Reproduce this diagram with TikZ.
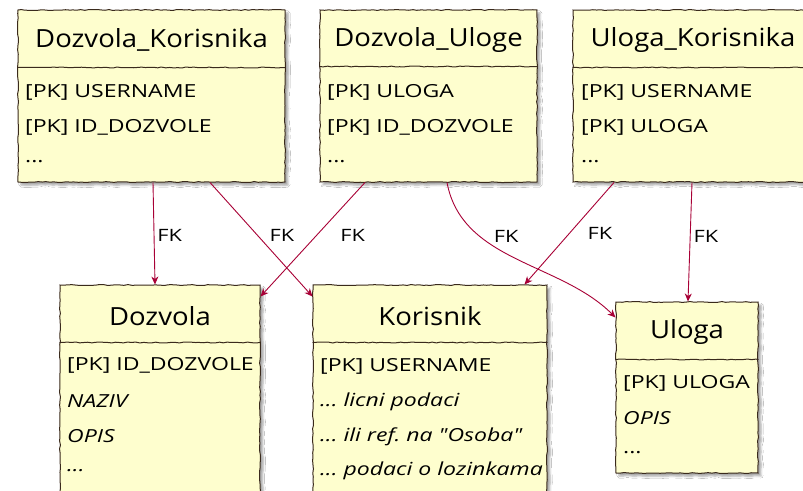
\documentclass[tikz,border=0pt]{standalone}
\usepackage{fontspec}
\setmainfont{Open Sans}
\newfontfamily\rowfont{Open Sans}[FakeStretch=1.28]
\newfontfamily\ttlfont{Open Sans}[FakeStretch=1.1]
\usetikzlibrary{decorations.pathmorphing,shadows.blur,arrows.meta}
\definecolor{note}{HTML}{FEFECE}
\definecolor{edge}{HTML}{3A2A1C}
\definecolor{fkred}{HTML}{A80036}
\frenchspacing
\tikzset{
  sketchy/.style={decorate, decoration={random steps, segment length=4pt, amplitude=0.5pt}},
  tbl/.style={draw=edge, fill=note, line width=1pt, sketchy, inner sep=0pt,
    blur shadow={shadow xshift=3pt, shadow yshift=-3pt, shadow blur radius=2pt, shadow opacity=35}},
  sep/.style={draw=edge, line width=1pt, sketchy},
  ttl/.style={font=\ttlfont\fontsize{25}{29}\selectfont, inner sep=0pt},
  row/.style={font=\rowfont\fontsize{18}{21}\selectfont\frenchspacing, anchor=west, inner sep=0pt},
  irow/.style={row, font=\rowfont\fontsize{18}{21}\selectfont\itshape\frenchspacing},
  fk/.style={draw=fkred, line width=0.9pt, -{Stealth[length=8pt, width=7pt, inset=2.5pt]}},
  lbl/.style={font=\rowfont\fontsize{17}{19}\selectfont, inner sep=0pt, anchor=west, text=black}
}
\begin{document}
\begin{tikzpicture}[x=1pt, y=-1pt]
\useasboundingbox (0,0) rectangle (803,490);
\fill[white] (0,0) rectangle (803,490);
\clip (0,0) rectangle (803,490);

% ---- upper row of link tables ----
\node[tbl, minimum width=267pt, minimum height=172pt] (dk) at (151.5,96) {};
\draw[sep] ([yshift=-58pt]dk.north west) -- ([yshift=-58pt]dk.north east);
\node[ttl] (dkt) at (151.5,40) {Dozvola\_Korisnika};
\node[row] (dk1) at (25,92)  {[PK] USERNAME};
\node[row] (dk2) at (25,127) {[PK] ID\_DOZVOLE};
\node[row] (dk3) at (25,162) {...};

\node[tbl, minimum width=217pt, minimum height=172pt] (du) at (428.5,96) {};
\draw[sep] ([yshift=-57pt]du.north west) -- ([yshift=-57pt]du.north east);
\node[ttl] (dut) at (428.5,40) {Dozvola\_Uloge};
\node[row] (du1) at (327,92)  {[PK] ULOGA};
\node[row] (du2) at (327,127) {[PK] ID\_DOZVOLE};
\node[row] (du3) at (327,162) {...};

\node[tbl, minimum width=240pt, minimum height=172pt] (uk) at (693,96) {};
\draw[sep] ([yshift=-58pt]uk.north west) -- ([yshift=-58pt]uk.north east);
\node[ttl] (ukt) at (693,40) {Uloga\_Korisnika};
\node[row] (uk1) at (581,92)  {[PK] USERNAME};
\node[row] (uk2) at (581,127) {[PK] ULOGA};
\node[row] (uk3) at (581,162) {...};

% ---- lower row of entity tables ----
\node[tbl, minimum width=200pt, minimum height=230pt] (dz) at (160,400) {};
\draw[sep] ([yshift=-58pt]dz.north west) -- ([yshift=-58pt]dz.north east);
\node[ttl] (dzt) at (160,316) {Dozvola};
\node[row]  (dz1) at (67,365) {[PK] ID\_DOZVOLE};
\node[irow] (dz2) at (67,401) {NAZIV};
\node[irow] (dz3) at (67,436) {OPIS};
\node[irow] (dz4) at (67,471) {...};

\node[tbl, minimum width=234pt, minimum height=230pt] (ko) at (430,400) {};
\draw[sep] ([yshift=-58pt]ko.north west) -- ([yshift=-58pt]ko.north east);
\node[ttl] (kot) at (430,316) {Korisnik};
\node[row]  (ko1) at (320,366) {[PK] USERNAME};
\node[irow] (ko2) at (320,402) {... licni podaci};
\node[irow] (ko3) at (320,437) {... ili ref. na \symbol{"22}Osoba\symbol{"22}};
\node[irow] (ko4) at (320,471) {... podaci o lozinkama};

\node[tbl, minimum width=142pt, minimum height=171pt] (ul) at (687,387.5) {};
\draw[sep] ([yshift=-58pt]ul.north west) -- ([yshift=-58pt]ul.north east);
\node[ttl] (ult) at (687,332) {Uloga};
\node[row]  (ul1) at (623,383) {[PK] ULOGA};
\node[irow] (ul2) at (623,418) {OPIS};
\node[row]  (ul3) at (623,453) {...};

% ---- foreign keys ----
\draw[fk] ([xshift=1.5pt]dk.south) -- ([xshift=-5pt]dz.north)
  node[lbl, pos=0.52, right=3pt] (l1) {FK};
\draw[fk] ([xshift=58.5pt]dk.south) -- ([yshift=-12pt]ko.north west)
  node[lbl, pos=0.46, right=12pt] (l2) {FK};
\draw[fk] ([xshift=-63.5pt]du.south) -- ([yshift=-12pt]dz.north east)
  node[lbl, pos=0.46, right=23pt] (l3) {FK};
\draw[fk] ([xshift=18.5pt]du.south) .. controls (462,262) and (560,262) .. ([yshift=-16pt]ul.north west)
  node[lbl, pos=0.3, right=14pt] (l4) {FK};
\draw[fk] ([xshift=-79pt]uk.south) -- ([xshift=-23pt]ko.north east)
  node[lbl, pos=0.5, right=18pt] (l5) {FK};
\draw[fk] ([xshift=-1pt]uk.south) -- ([xshift=1pt]ul.north)
  node[lbl, pos=0.45, right=3pt] (l6) {FK};
\end{tikzpicture}
\end{document}
